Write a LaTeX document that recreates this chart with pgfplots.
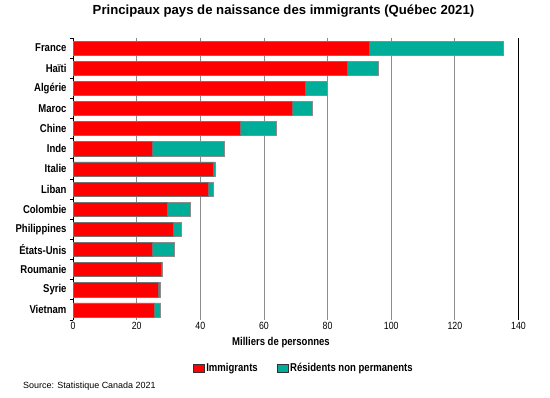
\documentclass[border=0pt]{standalone}
\usepackage{fontspec}
\setmainfont{Liberation Sans}
\newfontfamily\narrow{Liberation Sans}[FakeStretch=0.84]
\usepackage{pgfplots}
\pgfplotsset{compat=1.18}
\definecolor{imm}{RGB}{255,0,0}
\definecolor{npr}{RGB}{0,173,153}
\pgfplotstableread{
y imm npr
0 93.1 42.1
1 86.2 9.6
2 72.9 7.1
3 69.0 6.1
4 52.5 11.5
5 25.0 22.5
6 44.1 0.7
7 42.4 1.7
8 29.6 7.1
9 31.4 2.7
10 25.0 6.9
11 27.8 0.3
12 26.9 0.5
13 25.6 1.9
}\data
\begin{document}
\begin{tikzpicture}
\useasboundingbox (-73bp,-78bp) rectangle (477bp,320bp);
\begin{axis}[
  at={(0,0)}, anchor=south west,
  scale only axis, width=445.5bp, height=282bp,
  xbar stacked, bar width=0.7,
  xmin=0, xmax=140, ymin=-0.5, ymax=13.5, y dir=reverse,
  xtick={0,20,...,140},
  ytick={0,...,13},
  yticklabels={France,Haïti,Algérie,Maroc,Chine,Inde,Italie,Liban,Colombie,Philippines,États-Unis,Roumanie,Syrie,Vietnam},
  minor ytick={-0.5,0.5,...,13.5},
  tick align=outside,
  major tick length=0pt,
  minor tick length=3.5bp,
  minor tick style={black, line width=0.8pt},
  axis x line*=bottom, axis y line*=left,
  x axis line style={draw=none},
  y axis line style={black, line width=0.8pt, -},
  xmajorgrids, major grid style={black!45, line width=0.8pt},
  extra x ticks={140}, extra x tick labels={},
  extra x tick style={grid=major, major grid style={black, line width=0.8pt}},
  /pgf/number format/assume math mode=true,
  xticklabel style={font=\narrow\fontsize{10.5}{12}\selectfont, yshift=1bp},
  yticklabel style={font=\narrow\bfseries\fontsize{11.4}{13}\selectfont, xshift=-3bp},
  clip=false,
  legend columns=2,
  legend style={at={(axis description cs:0.518,-0.170)}, anchor=center, draw=none,
    font=\narrow\bfseries\fontsize{11.4}{13}\selectfont,
    /tikz/every even column/.append style={column sep=17bp}},
  legend image code/.code={\draw[#1,draw=black!80] (0bp,-4bp) rectangle (11bp,4bp);},
]
\addplot[fill=imm, draw=black!55, line width=0.5pt] table[x=imm,y=y]{\data};
\addplot[fill=npr, draw=black!45, line width=0.5pt] table[x=npr,y=y]{\data};
\legend{Immigrants, Résidents non permanents}
\end{axis}
\node[font=\bfseries\fontsize{13.2}{15}\selectfont] at (210.5bp,309bp) {Principaux pays de naissance des immigrants (Québec 2021)};
\node[font=\narrow\bfseries\fontsize{11.4}{13}\selectfont] at (208bp,-23bp) {Milliers de personnes};
\node[font=\fontsize{9}{11}\selectfont, anchor=west, inner sep=0pt] at (-50bp,-66bp) {Source: Statistique Canada 2021};
\end{tikzpicture}
\end{document}
